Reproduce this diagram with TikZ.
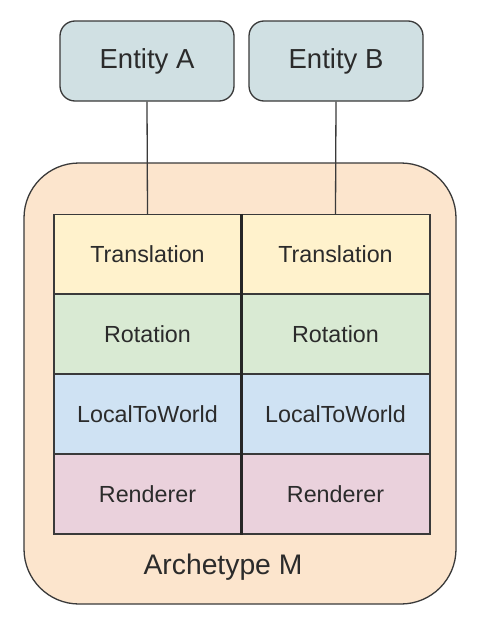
\documentclass[tikz,border=0pt]{standalone}
\usepackage{fontspec}
\setmainfont{Liberation Sans}
\definecolor{entfill}{HTML}{D0E0E3}
\definecolor{archfill}{HTML}{FCE5CD}
\definecolor{trfill}{HTML}{FFF2CC}
\definecolor{rofill}{HTML}{D9EAD3}
\definecolor{ltwfill}{HTML}{CFE2F3}
\definecolor{renfill}{HTML}{EAD1DC}
\definecolor{edge}{HTML}{3A3A3A}
\definecolor{txt}{HTML}{2B2B2B}
\begin{document}
\begin{tikzpicture}[x=1pt,y=-1pt,
  entbox/.style={draw=edge,line width=1.3pt,fill=entfill,rounded corners=15pt,
    minimum width=174pt,minimum height=80pt,inner sep=0pt,text=txt,
    font=\fontsize{27.5}{32}\selectfont},
  archbox/.style={draw=edge,line width=1.3pt,fill=archfill,rounded corners=55pt,
    minimum width=432pt,minimum height=441pt,inner sep=0pt},
  cell/.style={draw=edge,line width=1.3pt,minimum height=80pt,inner sep=0pt,
    text=txt,font=\fontsize{23.3}{28}\selectfont},
  cellA/.style={cell,minimum width=187pt},
  cellB/.style={cell,minimum width=189pt},
  conn/.style={draw=edge,line width=1.3pt}
]
\useasboundingbox (0,0) rectangle (480,621);
\fill[white] (0,0) rectangle (480,621);
\node[archbox] (arch) at (240,383.5) {};
\node[text=txt,font=\fontsize{28.3}{33}\selectfont] (archlabel) at (223,567) {Archetype M};
% column A
\node[cellA,fill=trfill]  (trA)  at (147.5,254.5) {Translation};
\node[cellA,fill=rofill]  (roA)  at (147.5,334)   {Rotation};
\node[cellA,fill=ltwfill] (ltwA) at (147.5,414)   {LocalToWorld};
\node[cellA,fill=renfill] (renA) at (147.5,494)   {Renderer};
% column B
\node[cellB,fill=trfill]  (trB)  at (335.5,254.5) {Translation};
\node[cellB,fill=rofill]  (roB)  at (335.5,334)   {Rotation};
\node[cellB,fill=ltwfill] (ltwB) at (335.5,414)   {LocalToWorld};
\node[cellB,fill=renfill] (renB) at (335.5,494)   {Renderer};
\draw[draw=black!85,line width=2.6pt] (trA.north east) -- (renA.south east);
% entities
\node[entbox] (ea) at (147,61) {Entity A};
\node[entbox] (eb) at (336,61) {Entity B};
\draw[conn] (ea.south) -- (trA.north);
\draw[conn] (eb.south) -- (trB.north);
\end{tikzpicture}
\end{document}
